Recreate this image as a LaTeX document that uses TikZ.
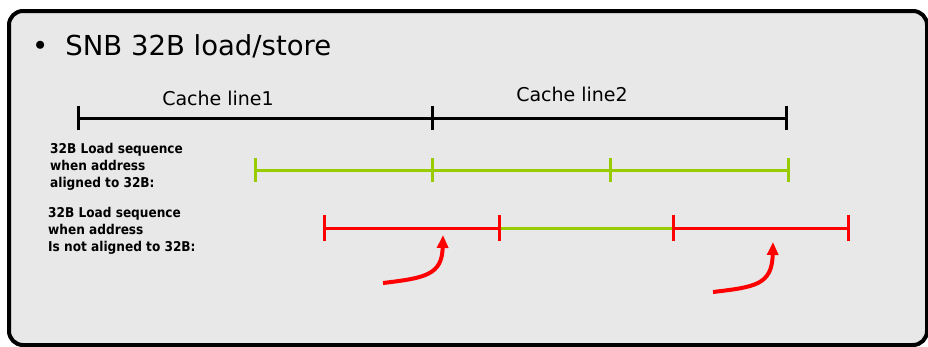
\documentclass[tikz,border=0pt]{standalone}
\usepackage{fontspec}
\setmainfont{DejaVu Sans}
\newfontfamily\lblfont{DejaVu Sans Condensed}
\usetikzlibrary{arrows.meta}
\definecolor{panel}{HTML}{E8E8E8}
\definecolor{lgreen}{HTML}{99CC00}
\definecolor{lred}{HTML}{FF0000}
\begin{document}
\begin{tikzpicture}[x=1pt,y=-1pt,
  seg/.style={line width=3pt},
  tick/.style={line width=3pt},
  blackseg/.style={seg,black},
  greenseg/.style={seg,lgreen},
  redseg/.style={seg,lred},
  lbl/.style={anchor=north west,align=left,font=\lblfont\bfseries\fontsize{13.5}{17}\selectfont,inner sep=0pt},
  cl/.style={font=\fontsize{19}{22}\selectfont},
  curved/.style={lred,line width=4pt,-{Triangle[length=13pt,width=11pt]}}]
\useasboundingbox (0,0) rectangle (928,346);
\fill[white] (0,0) rectangle (928,346);
\draw[line width=4pt,fill=panel,rounded corners=14pt] (9,11) rectangle (927,345);
% title
\node[anchor=west,inner sep=0pt,font=\fontsize{27.5}{32}\selectfont] (title) at (32,46) {\textbullet\hspace{17pt}SNB 32B load/store};
% cache lines
\coordinate (c0) at (78,118);
\coordinate (c1) at (432,118);
\coordinate (c2) at (786,118);
\node[cl] (cl1) at (218,98) {Cache line1};
\node[cl] (cl2) at (572,94) {Cache line2};
\draw[blackseg] (c0) -- (c1);
\draw[blackseg] (c1) -- (c2);
\foreach \p in {c0,c1,c2} \draw[tick,black] ([yshift=-12pt]\p) -- ([yshift=12pt]\p);
% aligned
\coordinate (g0) at (255,170);
\coordinate (g1) at (432,170);
\coordinate (g2) at (610,170);
\coordinate (g3) at (788,170);
\draw[greenseg] (g0) -- (g1);
\draw[greenseg] (g1) -- (g2);
\draw[greenseg] (g2) -- (g3);
\foreach \p in {g0,g1,g2,g3} \draw[tick,lgreen] ([yshift=-12pt]\p) -- ([yshift=12pt]\p);
\node[lbl] (la) at (50,143) {32B Load sequence\\when address\\ aligned to 32B:};
% unaligned
\coordinate (r0) at (324,228);
\coordinate (r1) at (499,228);
\coordinate (r2) at (673,228);
\coordinate (r3) at (848,228);
\draw[redseg] (r0) -- (r1);
\draw[greenseg] (r1) -- (r2);
\draw[redseg] (r2) -- (r3);
\foreach \p in {r0,r1,r2,r3} \draw[tick,lred] ([yshift=-13pt]\p) -- ([yshift=13pt]\p);
\node[lbl] (lu) at (48,207) {32B Load sequence\\when address\\Is not aligned to 32B:};
% arrows
\coordinate (a1s) at (383,283);
\coordinate (a1e) at (443,235);
\coordinate (a2s) at (713,292);
\coordinate (a2e) at (773,242);
\draw[curved] (a1s) .. controls (425,278) and (442,275) .. (a1e);
\draw[curved] (a2s) .. controls (755,287) and (772,285) .. (a2e);
\end{tikzpicture}
\end{document}
